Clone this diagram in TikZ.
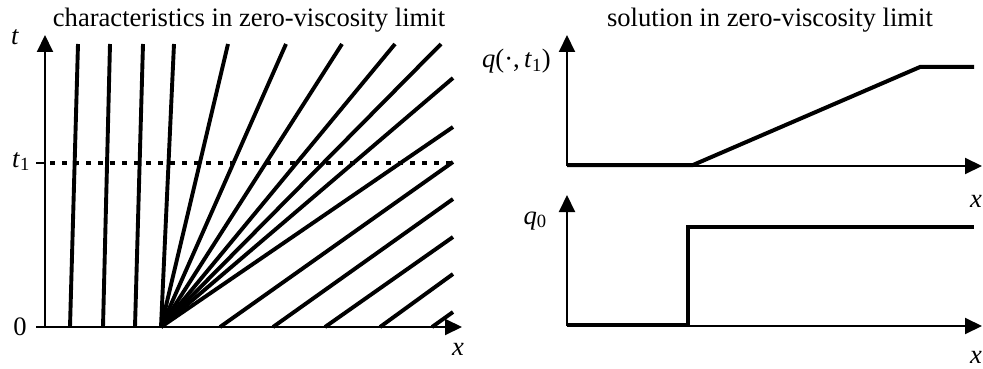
\documentclass[tikz,border=0pt]{standalone}
\usepackage{fontspec}
\setmainfont{Liberation Serif}
\usetikzlibrary{arrows.meta}
\begin{document}
\begin{tikzpicture}[x=1pt,y=-1pt,
  axis/.style={line width=2pt,-{Triangle[length=17pt,width=16pt]}},
  plain/.style={line width=2pt},
  charline/.style={line width=3.9pt},
  solline/.style={line width=4pt},
  dotline/.style={line width=4pt,dash pattern=on 5pt off 7pt},
  lbl/.style={font=\fontsize{26.6}{30}\selectfont, inner sep=0pt}]
\useasboundingbox (0,0) rectangle (983,369);

% ---------- left panel ----------
\coordinate (O) at (45,327);
\coordinate (Tt) at (45,35);
\coordinate (Xs) at (36,327);
\coordinate (Xt) at (462,327);
\coordinate (F) at (161,327);

% characteristics left of fan
\foreach \b/\t in {70/78,103/110,135/143}
  \draw[charline] (\b,327) -- (\t,44);
% fan
\foreach \t in {174,228,286,342,395,441}
  \draw[charline] (F) -- (\t,44);
\foreach \y in {78,127}
  \draw[charline] (F) -- (453,\y);
% parallel characteristics
\foreach \b/\y in {220/162,273/199,325/237,380/274,432/312}
  \draw[charline] (\b,327) -- (453,\y);

% t1 line
\coordinate (T1s) at (36,163);
\coordinate (T1a) at (45,163);
\coordinate (T1e) at (453,163);
\draw[plain] (T1s) -- (T1a);
\draw[dotline] (50,163) -- (T1e);

\draw[axis] (O) -- (Tt);
\draw[axis] (Xs) -- (Xt);

\node[lbl,anchor=base] (lt) at (15,45) {\textit{t}};
\node[lbl,anchor=base] (lt1) at (21,167) {\textit{t}\textsubscript{1}};
\node[lbl,anchor=base] (l0) at (20,335) {0};
\node[lbl,anchor=base] (lx) at (458,355) {\textit{x}};
\node[lbl,anchor=base] (ltitle) at (249,27) {characteristics in zero-viscosity limit};

% ---------- right panel ----------
\node[lbl,anchor=base] (rtitle) at (770,27) {solution in zero-viscosity limit};

% top
\coordinate (A0) at (567,166);
\coordinate (At) at (567,35);
\coordinate (Ax) at (982,166);
\coordinate (C0) at (567,165);
\coordinate (A1) at (693,165);
\coordinate (A2) at (920,67);
\coordinate (A3) at (974,67);
\draw[solline] (C0) -- (A1) -- (A2) -- (A3);
\draw[axis] (A0) -- (At);
\draw[axis] (A0) -- (Ax);
\node[lbl,anchor=base east] (lq) at (551,68) {\textit{q}(·,\,\textit{t}\textsubscript{1})};
\node[lbl,anchor=base west] (lxa) at (970,207) {\textit{x}};

% bottom
\coordinate (B0) at (567,326);
\coordinate (Bt) at (567,195);
\coordinate (Bx) at (982,326);
\coordinate (D0) at (567,325);
\coordinate (B1) at (688,325);
\coordinate (B2) at (688,227);
\coordinate (B3) at (974,227);
\draw[solline] (D0) -- (B1) -- (B2) -- (B3);
\draw[axis] (B0) -- (Bt);
\draw[axis] (B0) -- (Bx);
\node[lbl,anchor=base east] (lq0) at (547,224) {\textit{q}\textsubscript{0}};
\node[lbl,anchor=base west] (lxb) at (970,363) {\textit{x}};
\end{tikzpicture}
\end{document}
